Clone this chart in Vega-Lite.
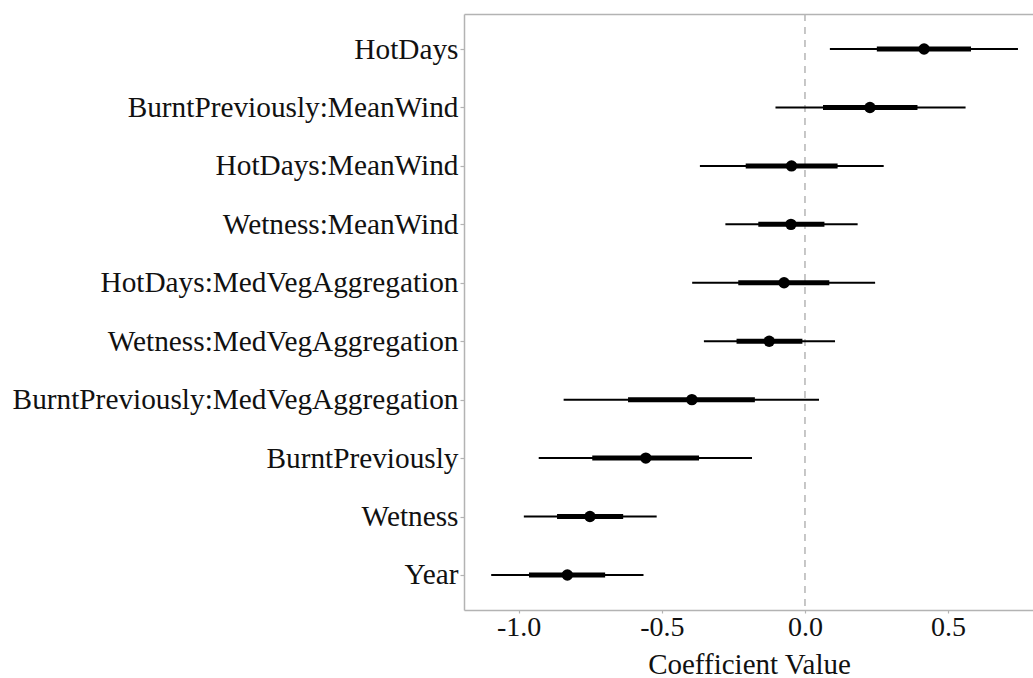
{
  "$schema": "https://vega.github.io/schema/vega-lite/v6.json",
  "width": 570,
  "height": 596,
  "padding": {"left": 12, "top": 13, "right": 0, "bottom": 0},
  "autosize": {"type": "pad"},
  "background": "white",
  "config": {"view": {"stroke": null}, "font": "Liberation Serif, Times New Roman, serif"},
  "datasets": {
    "coefs": [
      {"term": "HotDays", "est": 0.416, "lo": 0.087, "hi": 0.744, "lo50": 0.251, "hi50": 0.58},
      {"term": "BurntPreviously:MeanWind", "est": 0.227, "lo": -0.103, "hi": 0.561, "lo50": 0.063, "hi50": 0.393},
      {"term": "HotDays:MeanWind", "est": -0.047, "lo": -0.367, "hi": 0.275, "lo50": -0.207, "hi50": 0.114},
      {"term": "Wetness:MeanWind", "est": -0.049, "lo": -0.278, "hi": 0.184, "lo50": -0.163, "hi50": 0.068},
      {"term": "HotDays:MedVegAggregation", "est": -0.073, "lo": -0.394, "hi": 0.245, "lo50": -0.233, "hi50": 0.085},
      {"term": "Wetness:MedVegAggregation", "est": -0.125, "lo": -0.353, "hi": 0.105, "lo50": -0.239, "hi50": -0.009},
      {"term": "BurntPreviously:MedVegAggregation", "est": -0.395, "lo": -0.843, "hi": 0.049, "lo50": -0.618, "hi50": -0.175},
      {"term": "BurntPreviously", "est": -0.556, "lo": -0.93, "hi": -0.185, "lo50": -0.743, "hi50": -0.37},
      {"term": "Wetness", "est": -0.751, "lo": -0.982, "hi": -0.518, "lo50": -0.866, "hi50": -0.635},
      {"term": "Year", "est": -0.83, "lo": -1.096, "hi": -0.564, "lo50": -0.964, "hi50": -0.698}
    ],
    "zero": [{"zero": 0}]
  },
  "layer": [
    {
      "data": {"name": "zero"},
      "mark": {"type": "rule", "color": "#b5b5b5", "strokeWidth": 1.5, "strokeDash": [7, 6]},
      "encoding": {
        "x": {
          "field": "zero", "type": "quantitative",
          "scale": {"domain": [-1.191, 0.8], "nice": false, "zero": false},
          "axis": {"orient": "top", "labels": false, "ticks": false, "grid": false, "title": null, "domain": true, "domainColor": "#b3b3b3", "domainWidth": 1.5}
        }
      }
    },
    {
      "data": {"name": "coefs"},
      "mark": {"type": "rule", "color": "black", "strokeWidth": 2},
      "encoding": {
        "y": {
          "field": "term", "type": "nominal",
          "sort": ["HotDays", "BurntPreviously:MeanWind", "HotDays:MeanWind", "Wetness:MeanWind", "HotDays:MedVegAggregation", "Wetness:MedVegAggregation", "BurntPreviously:MedVegAggregation", "BurntPreviously", "Wetness", "Year"],
          "scale": {"type": "point", "padding": 0.6},
          "axis": {"title": null, "grid": false, "domainColor": "#b3b3b3", "domainWidth": 1.5, "tickColor": "#b3b3b3", "tickSize": 4, "tickWidth": 1.2, "labelPadding": 2, "labelFontSize": 29.3, "labelColor": "#111111", "labelFont": "Liberation Serif, Times New Roman, serif", "labelLimit": 0}
        },
        "x": {
          "field": "lo", "type": "quantitative",
          "axis": {"orient": "bottom", "title": "Coefficient Value", "values": [-1, -0.5, 0, 0.5], "format": ".1f", "labelExpr": "replace(datum.label, '−', '-')", "grid": false, "domainColor": "#b3b3b3", "domainWidth": 1.5, "tickColor": "#b3b3b3", "tickSize": 3, "tickWidth": 1.2, "labelPadding": 0, "labelFontSize": 28, "labelColor": "#111111", "labelFont": "Liberation Serif, Times New Roman, serif", "titleFontSize": 29, "titleFont": "Liberation Serif, Times New Roman, serif", "titleFontWeight": "normal", "titleColor": "#111111", "titlePadding": 9}
        },
        "x2": {"field": "hi"}
      }
    },
    {
      "data": {"name": "coefs"},
      "mark": {"type": "rule", "color": "black", "strokeWidth": 5},
      "encoding": {
        "y": {"field": "term", "type": "nominal", "sort": ["HotDays", "BurntPreviously:MeanWind", "HotDays:MeanWind", "Wetness:MeanWind", "HotDays:MedVegAggregation", "Wetness:MedVegAggregation", "BurntPreviously:MedVegAggregation", "BurntPreviously", "Wetness", "Year"]},
        "x": {"field": "lo50", "type": "quantitative", "axis": null},
        "x2": {"field": "hi50"}
      }
    },
    {
      "data": {"name": "coefs"},
      "mark": {"type": "point", "filled": true, "color": "black", "opacity": 1, "size": 130, "shape": "circle"},
      "encoding": {
        "y": {"field": "term", "type": "nominal", "sort": ["HotDays", "BurntPreviously:MeanWind", "HotDays:MeanWind", "Wetness:MeanWind", "HotDays:MedVegAggregation", "Wetness:MedVegAggregation", "BurntPreviously:MedVegAggregation", "BurntPreviously", "Wetness", "Year"]},
        "x": {"field": "est", "type": "quantitative", "axis": null}
      }
    }
  ],
  "resolve": {"axis": {"x": "independent"}}
}
